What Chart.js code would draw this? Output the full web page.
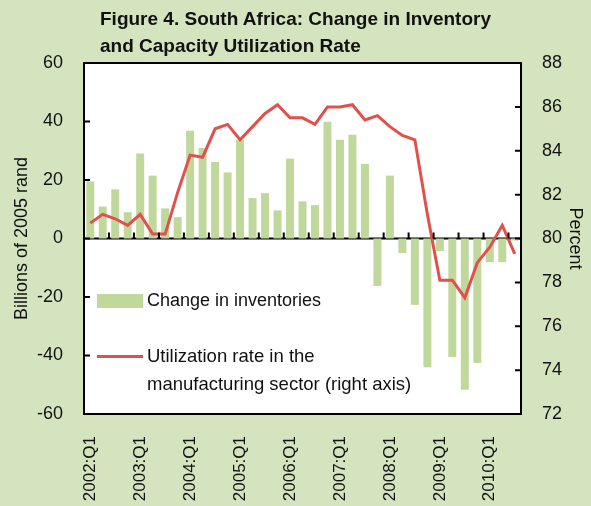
<!DOCTYPE html>
<html>
<head>
<meta charset="utf-8">
<script src="https://cdn.jsdelivr.net/npm/chart.js@4.4.0/dist/chart.umd.min.js"></script>
<style>
    body { margin: 0; background: #d3e4bf; }
    #wrap { position: relative; width: 591px; height: 506px; font-family: 'Liberation Sans', Arial, sans-serif; }
    #chart { position: absolute; left: 0; top: 0; }
    #title { position: absolute; left: 100px; top: 5px; font-weight: bold; font-size: 19px; line-height: 27px; color: #111; }
    .key { position: absolute; font-size: 18px; line-height: 28px; color: #111; white-space: nowrap; }
    .swatch { position: absolute; }
</style>
</head>
<body>
<div id="wrap">
    <canvas id="chart" width="591" height="506"></canvas>
    <div id="title">Figure 4. South Africa: Change in Inventory<br>and Capacity Utilization Rate</div>
    <div class="swatch" style="left:97px;top:294px;width:46px;height:14px;background:#c0d89c;"></div>
    <div class="key" style="left:147px;top:286px;">Change in inventories</div>
    <div class="swatch" style="left:97px;top:355px;width:46px;height:3px;background:#e0504d;"></div>
    <div class="key" style="left:147px;top:342px;font-size:18.5px;">Utilization rate in the<br>manufacturing sector (right axis)</div>
</div>
<script>
// quarters 2002:Q1 .. 2010:Q3
const quarters = [];
for (let y = 2002; y <= 2010; y++) {
    for (let q = 1; q <= 4; q++) {
        if (y === 2010 && q === 4) break;
        quarters.push(y + ':Q' + q);
    }
}

// billions of 2005 rand
const inventoryChange = [
    19.5, 10.9, 16.8, 9.0, 29.1, 21.5, 10.3, 7.3,
    36.8, 30.9, 26.2, 22.6, 33.8, 13.8, 15.5, 9.6,
    27.3, 12.7, 11.4, 39.9, 33.8, 35.5, 25.5, -16.2,
    21.5, -5.0, -22.7, -44.0, -4.3, -40.5, -51.7, -42.6,
    -8.1, -8.1, -0.7
];

// percent, right axis
const utilization = [
    80.7, 81.1, 80.9, 80.6, 81.1, 80.2, 80.2, 82.1,
    83.8, 83.7, 85.0, 85.2, 84.5, 85.1, 85.7, 86.1,
    85.5, 85.5, 85.2, 86.0, 86.0, 86.1, 85.4, 85.6,
    85.1, 84.7, 84.5, 81.1, 78.1, 78.1, 77.3, 78.9,
    79.6, 80.6, 79.3
];

const leftTicks = [-60, -40, -20, 0, 20, 40, 60];
const rightTicks = [72, 74, 76, 78, 80, 82, 84, 86, 88];

const FONT = "'Liberation Sans', Arial, sans-serif";

// white plot area, black frame, inside tick marks and zero line
const framePlugin = {
    id: 'frame',
    beforeDraw(chart) {
        const { ctx, chartArea: a } = chart;
        ctx.save();
        ctx.fillStyle = '#ffffff';
        ctx.fillRect(a.left, a.top, a.width, a.height);
        ctx.restore();
    },
    beforeDatasetsDraw(chart) {
        const { ctx, chartArea: a, scales } = chart;
        const zeroY = scales.y.getPixelForValue(0);
        ctx.save();
        ctx.strokeStyle = '#000';
        ctx.lineWidth = 2;
        ctx.beginPath();
        ctx.moveTo(a.left, zeroY);
        ctx.lineTo(a.right, zeroY);
        ctx.stroke();
        ctx.restore();
    },
    afterDatasetsDraw(chart) {
        const { ctx, chartArea: a, scales } = chart;
        const zeroY = scales.y.getPixelForValue(0);
        ctx.save();
        ctx.strokeStyle = '#000';
        ctx.lineWidth = 2;
        ctx.beginPath();
        leftTicks.forEach(v => {
            const py = scales.y.getPixelForValue(v);
            ctx.moveTo(a.left, py);
            ctx.lineTo(a.left + 6, py);
        });
        rightTicks.forEach(v => {
            const py = scales.y1.getPixelForValue(v);
            ctx.moveTo(a.right - 6, py);
            ctx.lineTo(a.right, py);
        });
        for (let k = 2; k < quarters.length; k += 2) {
            const px = (scales.x.getPixelForValue(k - 1) + scales.x.getPixelForValue(k)) / 2;
            ctx.moveTo(px, zeroY);
            ctx.lineTo(px, zeroY - 6);
        }
        ctx.stroke();
        ctx.strokeRect(a.left, a.top, a.width, a.height);
        ctx.restore();
    }
};

new Chart(document.getElementById('chart'), {
    data: {
        labels: quarters,
        datasets: [
            {
                type: 'line',
                label: 'Utilization rate in the manufacturing sector (right axis)',
                data: utilization,
                yAxisID: 'y1',
                borderColor: '#e0504d',
                borderWidth: 3,
                pointRadius: 0,
                tension: 0,
                order: 0
            },
            {
                type: 'bar',
                label: 'Change in inventories',
                data: inventoryChange,
                yAxisID: 'y',
                backgroundColor: '#c0d89c',
                categoryPercentage: 1,
                barPercentage: 0.64,
                order: 1
            }
        ]
    },
    options: {
        responsive: false,
        animation: false,
        layout: { padding: { top: 63, left: 0, right: 0, bottom: 0 } },
        plugins: {
            legend: { display: false },
            tooltip: { enabled: false }
        },
        scales: {
            x: {
                offset: true,
                grid: { display: false },
                border: { display: false },
                ticks: {
                    autoSkip: false,
                    maxRotation: 90,
                    minRotation: 90,
                    padding: 14,
                    color: '#111',
                    font: { family: FONT, size: 17 },
                    callback: (v, i) => i % 4 === 0 ? quarters[i] : ''
                },
                afterFit: s => { s.height = 92; }
            },
            y: {
                position: 'left',
                min: -60,
                max: 60,
                afterBuildTicks: s => { s.ticks = leftTicks.map(v => ({ value: v })); },
                grid: { display: false },
                border: { display: false },
                ticks: { padding: 13, color: '#111', font: { family: FONT, size: 18 } },
                title: {
                    display: true,
                    text: 'Billions of 2005 rand',
                    color: '#111',
                    font: { family: FONT, size: 18 },
                    padding: { top: 11, bottom: 0 }
                },
                afterFit: s => { s.width = 84; }
            },
            y1: {
                position: 'right',
                min: 72,
                max: 88,
                afterBuildTicks: s => { s.ticks = rightTicks.map(v => ({ value: v })); },
                grid: { display: false },
                border: { display: false },
                ticks: { padding: 13, color: '#111', font: { family: FONT, size: 18 } },
                title: {
                    display: true,
                    text: 'Percent',
                    color: '#111',
                    font: { family: FONT, size: 18 },
                    padding: { top: 5, bottom: 0 }
                },
                afterFit: s => { s.width = 70; }
            }
        }
    },
    plugins: [framePlugin]
});
</script>
</body>
</html>
